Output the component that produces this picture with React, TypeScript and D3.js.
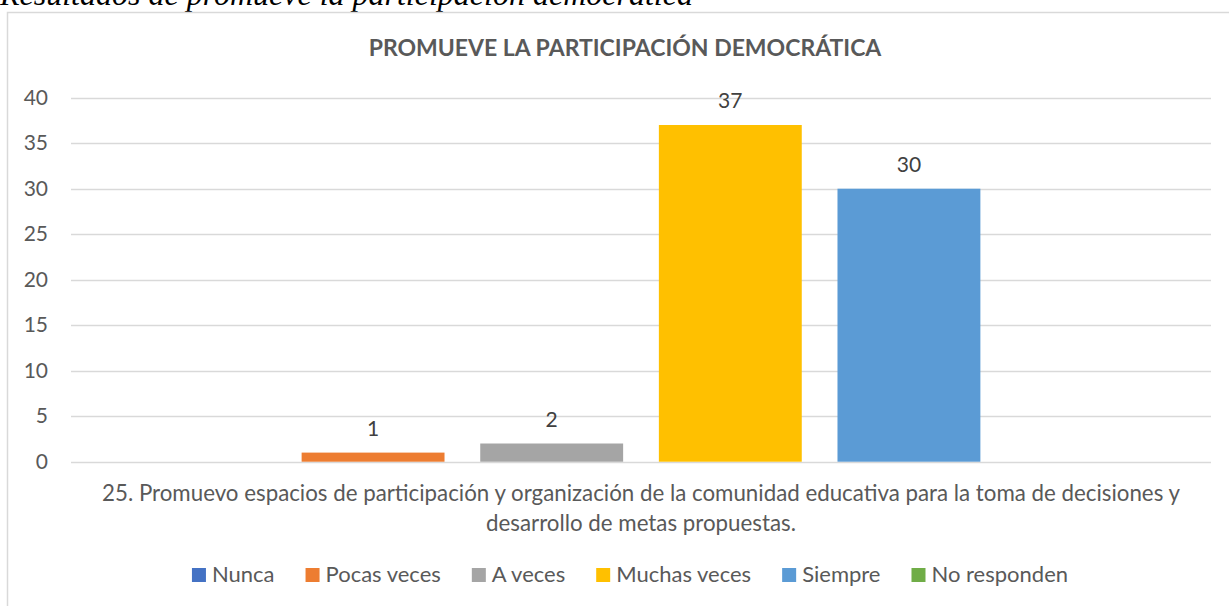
import React, { useEffect, useRef } from "react";
import * as d3 from "d3";

const series = ["Nunca", "Pocas veces", "A veces", "Muchas veces", "Siempre", "No responden"];
const values = [0, 1, 2, 37, 30, 0];
const colors = ["#4472c4", "#ed7d31", "#a5a5a5", "#ffc000", "#5b9bd5", "#70ad47"];
const yTicks = [0, 5, 10, 15, 20, 25, 30, 35, 40];
const categoryLines = [
  "25. Promuevo espacios de participación y organización de la comunidad educativa para la toma de decisiones y",
  "desarrollo de metas propuestas.",
];

const FONT = "Lato, 'Open Sans', sans-serif";
const GRAY = "#595959";

const App = () => {
  const svgRef = useRef<SVGSVGElement>(null);

  useEffect(() => {
    const root = d3.select(svgRef.current);
    root.selectAll("*").remove();

    const width = 1229;
    const height = 606;

    const svg = root.attr("width", width).attr("height", height);

    // caption above the chart, partly cut off
    svg
      .append("text")
      .attr("x", 0)
      .attr("y", 5)
      .attr("font-family", "'Liberation Serif', 'DejaVu Serif', serif")
      .attr("font-style", "italic")
      .attr("font-size", 32)
      .attr("fill", "#000")
      .text("Resultados de promueve la participación democrática");

    // chart frame
    svg
      .append("rect")
      .attr("x", 7.5)
      .attr("y", 12.5)
      .attr("width", 1240)
      .attr("height", 620)
      .attr("fill", "#fff")
      .attr("stroke", "#d9d9d9")
      .attr("stroke-width", 1.5);

    svg
      .append("text")
      .attr("x", 625)
      .attr("y", 56)
      .attr("text-anchor", "middle")
      .attr("font-family", FONT)
      .attr("font-weight", "bold")
      .attr("font-size", 23)
      .attr("fill", GRAY)
      .text("PROMUEVE LA PARTICIPACIÓN DEMOCRÁTICA");

    const plotLeft = 71;
    const plotRight = 1211;

    const y = d3.scaleLinear().domain([0, 40]).range([461.7, 97.7]);

    const x = d3
      .scaleBand()
      .domain(series)
      .range([plotLeft + 52, plotRight - 52])
      .paddingInner(0.2)
      .paddingOuter(0);

    // gridlines
    svg
      .append("g")
      .selectAll("line")
      .data(yTicks)
      .enter()
      .append("line")
      .attr("x1", plotLeft)
      .attr("x2", plotRight)
      .attr("y1", (d) => Math.round(y(d)) + 0.5)
      .attr("y2", (d) => Math.round(y(d)) + 0.5)
      .attr("stroke", "#d9d9d9")
      .attr("stroke-width", 1.5);

    // y labels
    svg
      .append("g")
      .selectAll("text")
      .data(yTicks)
      .enter()
      .append("text")
      .attr("x", 48)
      .attr("y", (d) => y(d) + 7)
      .attr("text-anchor", "end")
      .attr("font-family", FONT)
      .attr("font-size", 21)
      .attr("fill", GRAY)
      .text((d) => d);

    // bars
    svg
      .append("g")
      .selectAll("rect")
      .data(series)
      .enter()
      .append("rect")
      .attr("x", (d) => x(d)!)
      .attr("width", x.bandwidth())
      .attr("y", (d, i) => y(values[i]))
      .attr("height", (d, i) => y(0) - y(values[i]))
      .attr("fill", (d, i) => colors[i]);

    // data labels (non-zero only)
    svg
      .append("g")
      .selectAll("text")
      .data(series.filter((d, i) => values[i] > 0))
      .enter()
      .append("text")
      .attr("x", (d) => x(d)! + x.bandwidth() / 2)
      .attr("y", (d) => y(values[series.indexOf(d)]) - 17)
      .attr("text-anchor", "middle")
      .attr("font-family", FONT)
      .attr("font-size", 21)
      .attr("fill", "#404040")
      .text((d) => values[series.indexOf(d)]);

    // category label
    svg
      .append("g")
      .selectAll("text")
      .data(categoryLines)
      .enter()
      .append("text")
      .attr("x", 641)
      .attr("y", (d, i) => 501 + i * 30)
      .attr("text-anchor", "middle")
      .attr("font-family", FONT)
      .attr("font-size", 22.3)
      .attr("fill", GRAY)
      .text((d) => d);

    // legend
    const legend = svg.append("g");
    const items = legend
      .selectAll("g")
      .data(series)
      .enter()
      .append("g");
    items
      .append("rect")
      .attr("width", 14)
      .attr("height", 14)
      .attr("y", 568)
      .attr("fill", (d, i) => colors[i]);
    const labels = items
      .append("text")
      .attr("x", 20)
      .attr("y", 582)
      .attr("font-family", FONT)
      .attr("font-size", 22)
      .attr("fill", GRAY)
      .text((d) => d);

    const widths: number[] = [];
    labels.each(function () {
      widths.push(20 + (this as SVGTextElement).getComputedTextLength());
    });
    const gap = 31;
    const total = d3.sum(widths) + gap * (widths.length - 1);
    let cursor = 630 - total / 2;
    items.attr("transform", (d, i) => {
      const t = `translate(${cursor},0)`;
      cursor += widths[i] + gap;
      return t;
    });
  }, []);

  return <svg ref={svgRef} style={{ position: "absolute", left: 0, top: 0 }}></svg>;
};

export default App;
